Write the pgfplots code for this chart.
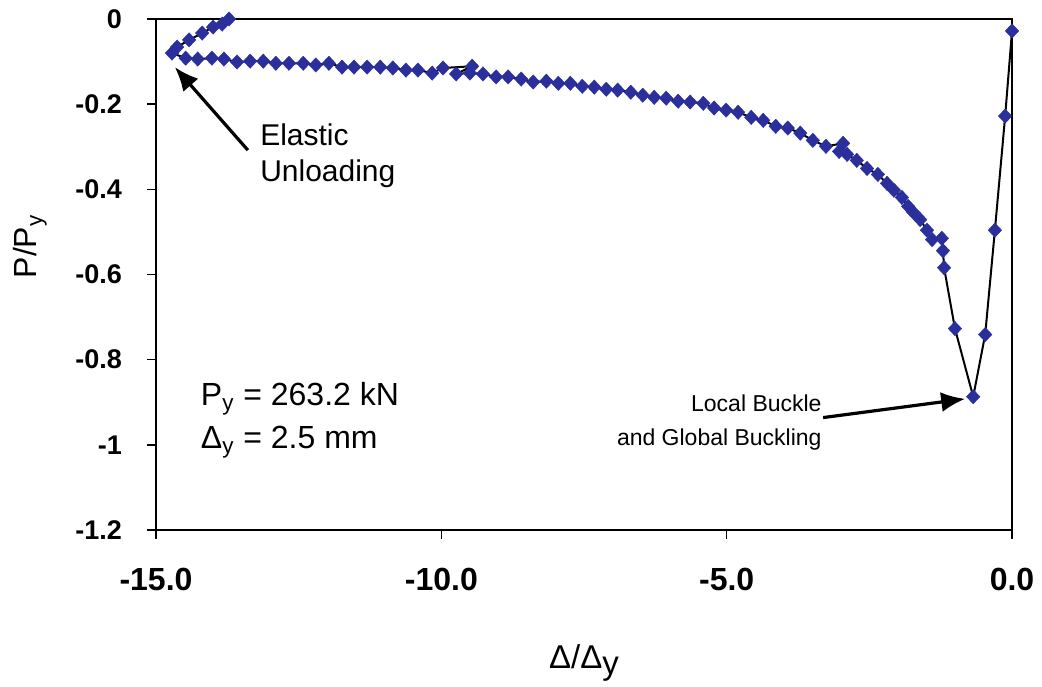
\documentclass[border=0pt]{standalone}
\usepackage{pgfplots}
\usepackage{pgfplotstable}
\pgfplotsset{compat=1.18}
\usepackage{fontspec}
\setmainfont{Liberation Sans}
\usetikzlibrary{arrows.meta}
\definecolor{mk}{HTML}{2B2F9B}
\pgfplotstableread{
x y
0.00 -0.028
-0.12 -0.228
-0.30 -0.496
-0.47 -0.741
-0.68 -0.887
-1.00 -0.727
-1.19 -0.584
-1.21 -0.544
-1.23 -0.515
-1.40 -0.518
-1.49 -0.496
-1.61 -0.471
-1.73 -0.454
-1.82 -0.440
-1.93 -0.419
-2.07 -0.402
-2.19 -0.386
-2.35 -0.365
-2.54 -0.351
-2.72 -0.332
-2.89 -0.318
-3.03 -0.311
-2.96 -0.292
-3.26 -0.299
-3.49 -0.285
-3.71 -0.268
-3.93 -0.256
-4.14 -0.252
-4.36 -0.238
-4.57 -0.231
-4.80 -0.219
-5.01 -0.214
-5.22 -0.209
-5.41 -0.198
-5.64 -0.195
-5.85 -0.193
-6.06 -0.186
-6.27 -0.184
-6.47 -0.179
-6.68 -0.172
-6.91 -0.167
-7.11 -0.165
-7.32 -0.160
-7.53 -0.158
-7.74 -0.151
-7.95 -0.151
-8.16 -0.146
-8.39 -0.148
-8.60 -0.141
-8.83 -0.136
-9.04 -0.136
-9.27 -0.129
-9.50 -0.127
-9.74 -0.129
-9.46 -0.111
-9.97 -0.115
-10.16 -0.127
-10.41 -0.120
-10.62 -0.120
-10.85 -0.115
-11.07 -0.113
-11.30 -0.113
-11.53 -0.113
-11.74 -0.113
-11.97 -0.104
-12.20 -0.108
-12.42 -0.104
-12.67 -0.104
-12.90 -0.104
-13.12 -0.099
-13.35 -0.099
-13.58 -0.101
-13.81 -0.094
-14.02 -0.092
-14.27 -0.094
-14.48 -0.092
-14.72 -0.080
-14.63 -0.066
-14.42 -0.049
-14.19 -0.033
-14.00 -0.019
-13.84 -0.012
-13.72 0.000
}\datatable

\begin{document}
\begin{tikzpicture}
\begin{axis}[
  scale only axis, width=428pt, height=255.5pt,
  xmin=-15, xmax=0, ymin=-1.2, ymax=0,
  xtick={-15,-10,-5,0}, xticklabels={-15.0,-10.0,-5.0,0.0},
  ytick={0,-0.2,-0.4,-0.6,-0.8,-1,-1.2},
  yticklabels={0,-0.2,-0.4,-0.6,-0.8,-1,-1.2},
  xtick pos=bottom, ytick pos=left,
  tick align=outside, major tick length=4.5pt,
  tick style={black, line width=0.8pt},
  axis line style={line width=1pt},
  xticklabel style={font=\bfseries\fontsize{16}{16}\selectfont, yshift=-11pt},
  yticklabel style={font=\bfseries\fontsize{13.5}{13.5}\selectfont, xshift=-9pt},
  xlabel={\fontsize{16.5}{16.5}\selectfont Δ/Δ\raisebox{-0.3ex}{y}},
  xlabel style={at={(axis description cs:0.5,-0.26)}, anchor=center},
  ylabel={\fontsize{16}{16}\selectfont P/P\textsubscript{y}},
  ylabel style={at={(axis description cs:-0.147,0.555)}, anchor=center},
  clip=false,
]
\addplot[black, line width=1pt, mark=diamond*, mark size=3.6pt,
  mark options={fill=mk, draw=mk, line width=0.2pt, xscale=1.25}] table[x=x, y=y] {\datatable};

\draw[black, line width=1.6pt, -{Latex[length=12pt,width=10pt]}] (axis cs:-13.39,-0.308) -- (axis cs:-14.67,-0.113);
\draw[black, line width=1.6pt, -{Latex[length=12pt,width=10pt]}] (axis cs:-3.31,-0.936) -- (axis cs:-0.82,-0.892);

\node[anchor=west, align=left, font=\fontsize{15}{18}\selectfont, inner sep=0pt] at (axis cs:-13.18,-0.32) {Elastic\\Unloading};
\node[anchor=west, align=left, font=\fontsize{16}{21.5}\selectfont, inner sep=0pt] at (axis cs:-14.22,-0.942) {P\textsubscript{y} = 263.2 kN\\Δ\textsubscript{y} = 2.5 mm};
\node[anchor=east, align=right, font=\fontsize{11.5}{17}\selectfont, inner sep=0pt] at (axis cs:-3.33,-0.948) {Local Buckle\\and Global Buckling};
\end{axis}
\pgfresetboundingbox
\path[use as bounding box] ([shift={(-78pt,-78pt)}]current axis.south west) rectangle ([shift={(15pt,9.5pt)}]current axis.north east);
\end{tikzpicture}
\end{document}
